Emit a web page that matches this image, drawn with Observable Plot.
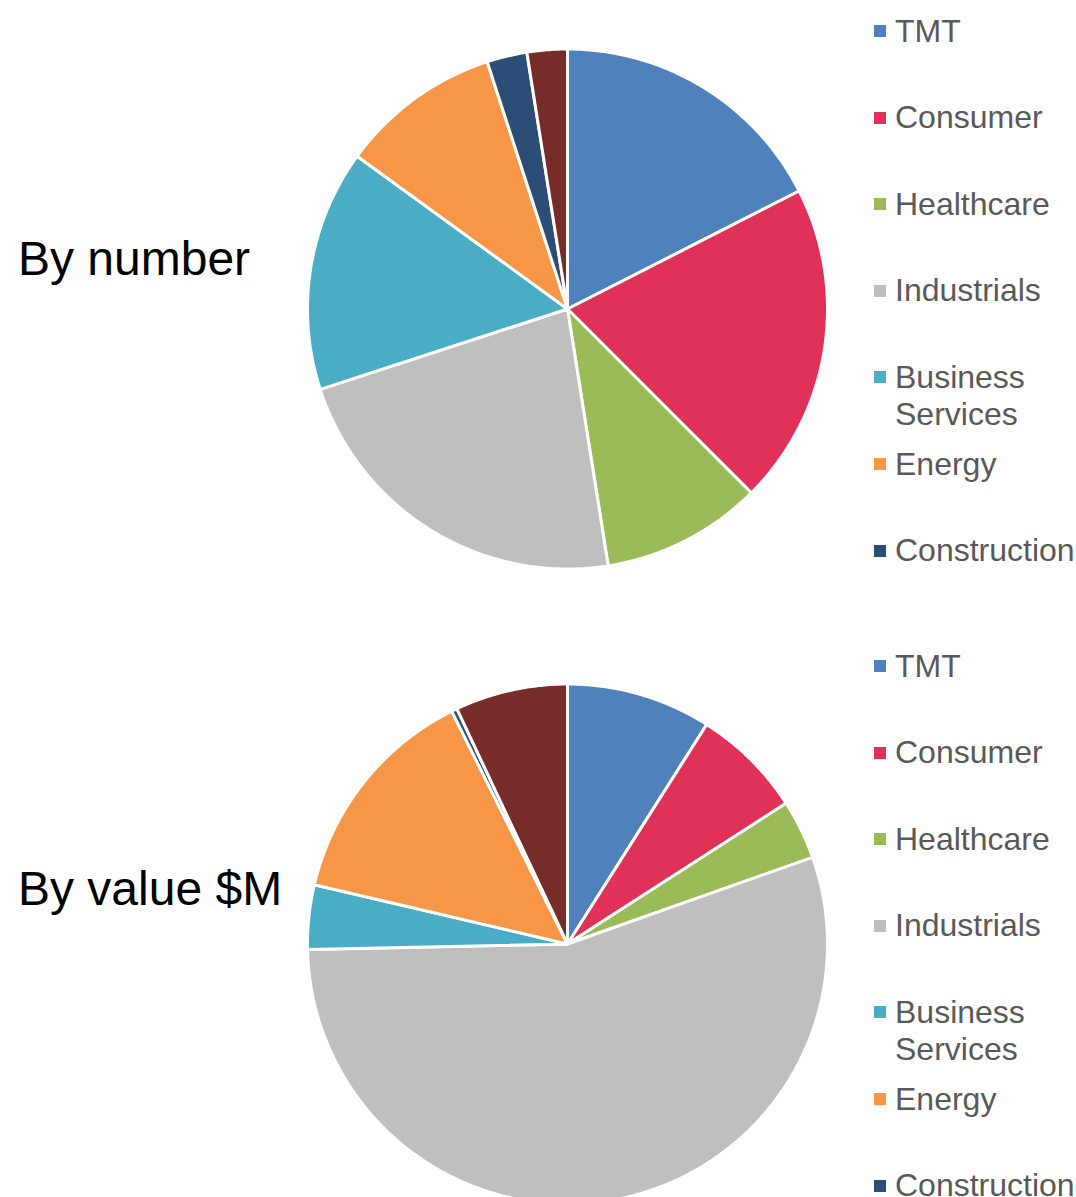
<!DOCTYPE html>
<html>
<head>
<meta charset="utf-8">
<script src="https://cdn.jsdelivr.net/npm/d3@7"></script>
<script src="https://cdn.jsdelivr.net/npm/@observablehq/plot@0.6"></script>
<style>
  html, body { margin: 0; padding: 0; background: #fff; }
  body { width: 1076px; height: 1197px; overflow: hidden; position: relative; font-family: "Liberation Sans", Arial, sans-serif; }
  .panel { position: absolute; left: 0; width: 1076px; height: 635px; }
  .panel svg { position: absolute; left: 0; top: 0; }
  .title { position: absolute; left: 18px; font-size: 48px; color: #000; line-height: 56px; white-space: nowrap; }
  .leg { position: absolute; left: 874px; }
  .leg .item { position: absolute; left: 0; white-space: nowrap; }
  .leg .sw { position: absolute; left: 0; width: 12px; height: 12px; }
  .leg .lbl { position: absolute; left: 21px; font-size: 32px; line-height: 36.5px; color: #595959; }
</style>
</head>
<body>
<script>
// ---- data ----
const categories = ["TMT", "Consumer", "Healthcare", "Industrials", "Business Services", "Energy", "Construction", "Other"];
const legendLabels = ["TMT", "Consumer", "Healthcare", "Industrials", "Business\nServices", "Energy", "Construction"];
const colors = ["#4F81BD", "#E03159", "#9BBB59", "#BFBFBF", "#4BACC6", "#F79646", "#2C4D75", "#772C2A"];
const byNumber = [7, 8, 4, 9, 6, 4, 1, 1];
const byValue = [90, 69, 37, 551, 40, 140, 3.5, 70];
const panels = [
  {title: "By number", values: byNumber},
  {title: "By value $M", values: byValue}
];

// Build slice outlines (as angle/radius points) from the values via d3.pie
function sliceRows(values) {
  const arcs = d3.pie().sort(null).value(d => d)(values);
  const rows = [];
  arcs.forEach((a, i) => {
    const cat = categories[i];
    rows.push({cat, x: 0, y: 0});
    const n = Math.max(2, Math.ceil((a.endAngle - a.startAngle) / (Math.PI / 360)));
    for (let k = 0; k <= n; k++) {
      const t = a.startAngle + (a.endAngle - a.startAngle) * k / n;
      rows.push({cat, x: Math.sin(t), y: Math.cos(t)});
    }
    rows.push({cat, x: 0, y: 0});
  });
  return rows;
}

panels.forEach((p, pi) => {
  const panel = document.createElement("div");
  panel.className = "panel";
  panel.style.top = (pi * 635) + "px";
  document.body.appendChild(panel);

  const chart = Plot.plot({
    width: 1076,
    height: 635,
    marginLeft: 307,
    marginRight: 249,
    marginTop: 48.5,
    marginBottom: 66.5,
    x: {domain: [-1, 1], axis: null},
    y: {domain: [-1, 1], axis: null},
    color: {domain: categories, range: colors},
    marks: [
      Plot.line(sliceRows(p.values), {
        x: "x", y: "y", z: "cat",
        fill: "cat",
        stroke: "white",
        strokeWidth: 3,
        strokeLinejoin: "miter"
      })
    ]
  });
  chart.style.overflow = "visible";
  panel.appendChild(chart);

  const title = document.createElement("div");
  title.className = "title";
  title.textContent = p.title;
  title.style.top = (pi === 0 ? 231 : 226) + "px";
  panel.appendChild(title);

  const leg = document.createElement("div");
  leg.className = "leg";
  leg.style.top = "0px";
  panel.appendChild(leg);
  legendLabels.forEach((lab, i) => {
    const cy = 30.5 + i * 86.6;
    const sw = document.createElement("div");
    sw.className = "sw";
    sw.style.top = (cy - 5.5) + "px";
    sw.style.background = colors[i];
    leg.appendChild(sw);
    const lbl = document.createElement("div");
    lbl.className = "lbl";
    lbl.style.top = (cy - 17.9) + "px";
    lbl.innerHTML = lab.replace("\n", "<br>");
    leg.appendChild(lbl);
  });
});
</script>
</body>
</html>
